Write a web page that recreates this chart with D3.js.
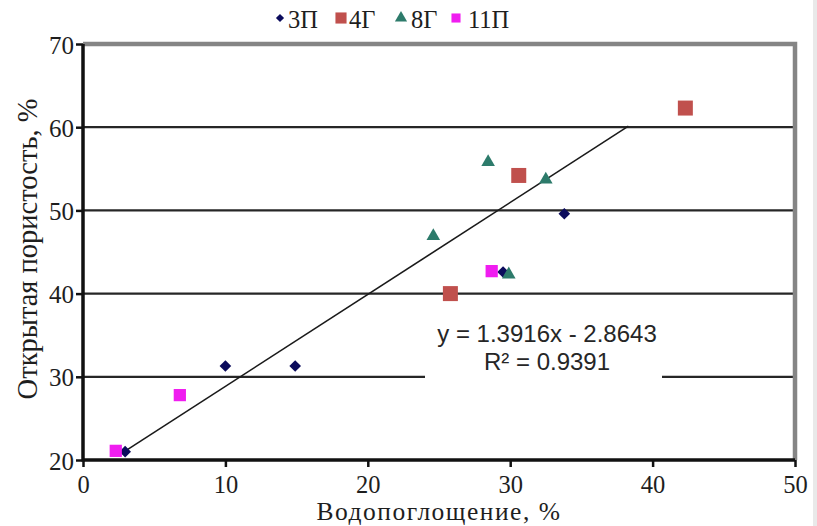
<!DOCTYPE html>
<html>
<head>
<meta charset="utf-8">
<script src="https://cdn.jsdelivr.net/npm/d3@7"></script>
<style>
  html, body { margin: 0; padding: 0; background: #fff; }
  svg { display: block; }
</style>
</head>
<body>
<svg id="chart" width="817" height="526"></svg>
<script>
// Water absorption (x, %) vs open porosity (y, %) for four samples
const seriesNames = ["3П", "4Г", "8Г", "11П"];
const x3P  = [2.96, 10.0, 14.9, 29.5, 33.8];
const y3P  = [21.0, 31.3, 31.3, 42.6, 49.6];
const x4G  = [25.8, 30.6, 42.3];
const y4G  = [40.0, 54.2, 62.3];
const x8G  = [24.6, 28.45, 32.5, 29.9];
const y8G  = [46.9, 55.8, 53.7, 42.3];
const x11P = [2.3, 6.8, 28.7];
const y11P = [21.1, 27.8, 42.7];

const xTicks = [0, 10, 20, 30, 40, 50];
const yTicks = [20, 30, 40, 50, 60, 70];

// trend line as drawn on the chart, with its printed equation
const trendRange = [2.9, 38.3];
const trendSlope = 1.105;
const trendIntercept = 17.8;
const eqLine1 = "y = 1.3916x - 2.8643";
const eqLine2 = "R² = 0.9391";

const xTitle = "Водопоглощение, %";
const yTitle = "Открытая пористость, %";

const svg = d3.select("#chart");
const W = 817, H = 526;
const plot = { left: 83, right: 795, top: 44, bottom: 460 };
const serif = "'Liberation Serif', 'Times New Roman', serif";
const textColor = "#1e1e1e";

const x = d3.scaleLinear().domain([0, 50]).range([plot.left, plot.right]);
const y = d3.scaleLinear().domain([20, 70]).range([plot.bottom, plot.top]);

// light strip at the right edge of the page
svg.append("rect").attr("x", 813).attr("y", 0).attr("width", W - 813).attr("height", H)
  .attr("fill", "#e9e9e9");

// horizontal gridlines
svg.append("g").selectAll("line")
  .data(yTicks.filter(t => t > 20 && t < 70))
  .join("line")
  .attr("x1", plot.left).attr("x2", plot.right)
  .attr("y1", d => y(d)).attr("y2", d => y(d))
  .attr("stroke", "#262626").attr("stroke-width", 2.2);

// grey frame on top and right
svg.append("path")
  .attr("d", `M${plot.left},${plot.top}H${plot.right}V${plot.bottom}`)
  .attr("fill", "none").attr("stroke", "#858585").attr("stroke-width", 4.5);

// axes
const xAxis = d3.axisBottom(x).tickValues(xTicks).tickSize(7);
const yAxis = d3.axisLeft(y).tickValues(yTicks).tickSize(7).tickPadding(2);

const gx = svg.append("g").attr("transform", `translate(0,${plot.bottom})`).call(xAxis);
const gy = svg.append("g").attr("transform", `translate(${plot.left},0)`).call(yAxis);

[gx, gy].forEach(g => {
  g.select(".domain").attr("stroke", "#111").attr("stroke-width", 3.5);
  g.selectAll(".tick line").attr("stroke", "#111").attr("stroke-width", 2.5);
  g.selectAll(".tick text")
    .attr("fill", textColor)
    .style("font-family", serif)
    .style("font-size", "25px");
});
gx.selectAll(".tick text").style("font-size", "24.5px").attr("y", 32.5).attr("dy", 0);
gy.selectAll(".tick text").attr("dy", "0.36em");
gx.select(".domain").attr("d", `M${plot.left},0H${plot.right}`);
gy.select(".domain").attr("d", `M0,${plot.bottom + 1.5}V${plot.top}`);

// trend line
svg.append("line")
  .attr("x1", x(trendRange[0])).attr("y1", y(trendSlope * trendRange[0] + trendIntercept))
  .attr("x2", x(trendRange[1])).attr("y2", y(trendSlope * trendRange[1] + trendIntercept))
  .attr("stroke", "#1a1a1a").attr("stroke-width", 1.6);

// equation label on a white box
const eqX = 547;
svg.append("rect").attr("x", 425).attr("y", 318).attr("width", 237).attr("height", 62)
  .attr("fill", "#fff");
const eq = svg.append("text")
  .attr("text-anchor", "middle")
  .attr("fill", "#262626")
  .style("font-family", "'Liberation Sans', Arial, sans-serif")
  .style("font-size", "24px");
eq.append("tspan").attr("x", eqX).attr("y", 342).text(eqLine1);
eq.append("tspan").attr("x", eqX).attr("y", 370).text(eqLine2);

// markers
const series = [
  { name: seriesNames[0], xs: x3P,  ys: y3P,  color: "#0b0b5c", type: d3.symbolSquare,   size: 68,  rotate: 45 },
  { name: seriesNames[1], xs: x4G,  ys: y4G,  color: "#c0504d", type: d3.symbolSquare,   size: 225, rotate: 0 },
  { name: seriesNames[2], xs: x8G,  ys: y8G,  color: "#2d7b6b", type: d3.symbolTriangle, size: 80,  rotate: 0 },
  { name: seriesNames[3], xs: x11P, ys: y11P, color: "#f01df0", type: d3.symbolSquare,   size: 150, rotate: 0 }
];

series.forEach(s => {
  const pts = s.xs.map((v, i) => [v, s.ys[i]]);
  svg.append("g").selectAll("path")
    .data(pts)
    .join("path")
    .attr("d", d3.symbol().type(s.type).size(s.size))
    .attr("transform", d => `translate(${x(d[0])},${y(d[1])}) rotate(${s.rotate})`)
    .attr("fill", s.color);
});

// legend
const legendItems = [
  { mx: 280, tx: 288 },
  { mx: 341, tx: 349 },
  { mx: 401, tx: 411 },
  { mx: 456, tx: 468 }
];
const legendScale = [0.5, 0.55, 0.8, 0.55];
const lg = svg.append("g");
series.forEach((s, i) => {
  lg.append("path")
    .attr("d", d3.symbol().type(s.type).size(s.size * legendScale[i]))
    .attr("transform", `translate(${legendItems[i].mx},18) rotate(${s.rotate})`)
    .attr("fill", s.color);
  lg.append("text")
    .attr("x", legendItems[i].tx).attr("y", 28)
    .attr("fill", textColor)
    .style("font-family", serif)
    .style("font-size", "24.5px")
    .text(s.name);
});

// axis titles
svg.append("text")
  .attr("x", 439).attr("y", 520.3)
  .attr("text-anchor", "middle")
  .attr("fill", textColor)
  .style("font-family", serif)
  .style("font-size", "25.5px")
  .style("letter-spacing", "1.5px")
  .text(xTitle);

svg.append("text")
  .attr("transform", `translate(37,249) rotate(-90)`)
  .attr("text-anchor", "middle")
  .attr("fill", textColor)
  .style("font-family", serif)
  .style("font-size", "28.5px")
  .text(yTitle);
</script>
</body>
</html>
